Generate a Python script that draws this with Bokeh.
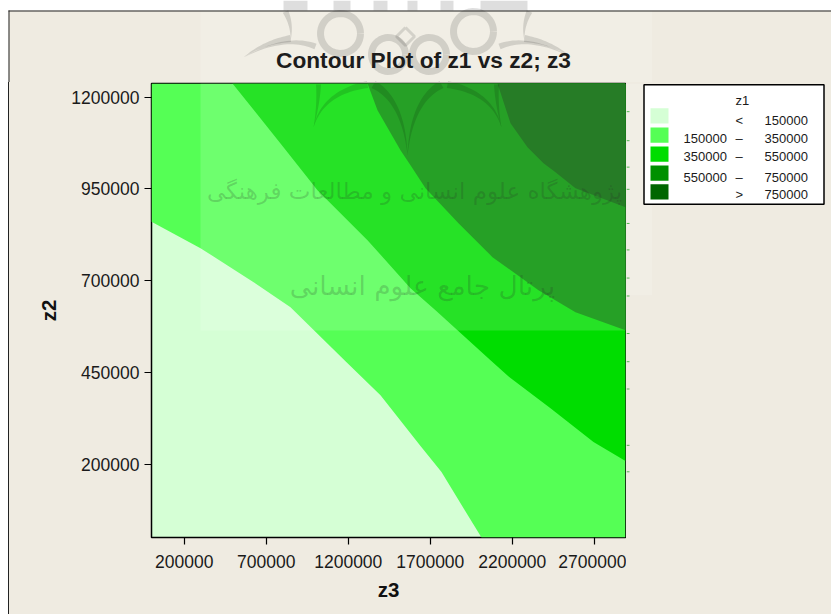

from bokeh.plotting import figure
from bokeh.embed import file_html
from bokeh.resources import INLINE
from bokeh.layouts import column, row
from bokeh.models import BoxAnnotation, Label, PolyAnnotation, FixedTicker, Range1d
import numpy as np

# ---- data ----
title = "Contour Plot of z1 vs z2; z3"
x_label, y_label = "z3", "z2"
x_ticks = [200000, 700000, 1200000, 1700000, 2200000, 2700000]
y_ticks = [200000, 450000, 700000, 950000, 1200000]
x_lim = (0, 2890500)
y_lim = (0, 1237400)

b150_x = [0, 298800, 603700, 847600, 1183000, 1396400, 1640400, 1768400, 1853800, 2012300]
b150_y = [860800, 788600, 701400, 627800, 480700, 388000, 249100, 178200, 115500, 0]
b350_x = [493900, 804900, 1012300, 1317200, 1579400, 1731800, 1866000, 2067200, 2189200, 2433100, 2695300, 2890500]
b350_y = [1237400, 1063800, 946700, 810400, 679600, 619700, 565200, 483400, 434400, 352600, 260000, 208200]
b550_x = [1317200, 1378100, 1518400, 1579400, 1670900, 1872100, 2079400, 2359900, 2585600, 2890500]
b550_y = [1237400, 1164700, 1055700, 1014800, 952100, 856700, 764100, 674200, 614200, 565200]
b750_x = [2109900, 2189200, 2292800, 2390400, 2463600, 2585600, 2890500]
b750_y = [1237400, 1129200, 1063800, 1020200, 995700, 952100, 900300]

level_colors = ["#D5FFD5", "#55FF55", "#00DD00", "#009000", "#006600"]
legend_title = "z1"
legend_low = ["", "150000", "350000", "550000", ""]
legend_op = ["<", "\u2013", "\u2013", "\u2013", ">"]
legend_high = ["150000", "350000", "550000", "750000", "750000"]
wm_line1 = "پژوهشگاه علوم انسانی و مطالعات فرهنگی"
wm_line2 = "پرتال جامع علوم انسانی"

BG = "#EFEBE1"
FONT = "Liberation Sans"
TEXT = "#1a1a1a"
W, H = 831, 614
TOP_H = 82          # top strip: title and picture frame
PANEL_X = 626       # right panel: legend
VEIL = dict(fill_color="white", fill_alpha=0.15, line_alpha=0)
INK = dict(fill_color="black", fill_alpha=0.13, line_alpha=0)


def pixel_figure(x0, x1, y0, y1, color=None):
    f = figure(width=x1 - x0, height=y1 - y0, output_backend="svg", toolbar_location=None,
               x_range=Range1d(x0, x1), y_range=Range1d(y1, y0),
               min_border=0, min_border_left=0, min_border_right=0, min_border_top=0, min_border_bottom=0)
    f.axis.visible = False
    f.grid.visible = False
    f.outline_line_color = None
    f.background_fill_color = color
    f.border_fill_color = color
    return f


def say(f, x, y, text, size, align="left", color=TEXT, style="normal", font=FONT, alpha=1.0,
        units=None, shift=(0, 0)):
    kw = dict(x_units=units, y_units=units) if units else {}
    f.add_layout(Label(x=x - shift[0], y=y - shift[1], text=text, text_font=font, text_font_size=size,
                       text_align=align, text_baseline="middle", text_color=color,
                       text_font_style=style, text_alpha=alpha, **kw))


def taper(a, c, b, w0, n=24):
    t = np.linspace(0, 1, n)
    a, c, b = map(np.array, (a, c, b))
    pts = np.outer((1-t)**2, a) + np.outer(2*t*(1-t), c) + np.outer(t**2, b)
    d = np.gradient(pts, axis=0)
    nrm = np.c_[-d[:, 1], d[:, 0]] / np.linalg.norm(d, axis=1, keepdims=True)
    w = (w0 * (1 - t))[:, None] / 2
    return np.r_[pts + nrm * w, (pts - nrm * w)[::-1]]


# ---- main plot ----
main = figure(width=PANEL_X, height=H - TOP_H, output_backend="svg", toolbar_location=None,
              x_range=Range1d(*x_lim), y_range=Range1d(*y_lim),
              min_border_left=151, min_border_right=1, min_border_top=1, min_border_bottom=77)
main.border_fill_color = None
main.background_fill_color = level_colors[0]
main.grid.visible = False
main.outline_line_color = "black"
main.outline_line_width = 1.5

xmin, xmax = x_lim
ymin, ymax = y_lim
main.patch(b150_x + [xmax, xmax, xmin], b150_y + [ymin, ymax, ymax], color=level_colors[1], line_width=0)
main.patch(b350_x + [xmax], b350_y + [ymax], color=level_colors[2], line_width=0)
main.patch(b550_x + [xmax], b550_y + [ymax], color=level_colors[3], line_width=0)
main.patch(b750_x + [xmax], b750_y + [ymax], color=level_colors[4], line_width=0)

for ax, ticks, lab, lab_off, tit_off in ((main.xaxis[0], x_ticks, x_label, 10, 7),
                                         (main.yaxis[0], y_ticks, y_label, 5, 8)):
    ax.ticker = FixedTicker(ticks=ticks)
    ax.formatter.use_scientific = False
    ax.major_label_text_font = FONT
    ax.major_label_text_font_size = "17.5px"
    ax.major_label_text_color = TEXT
    ax.major_tick_out = 7
    ax.major_tick_in = 0
    ax.major_tick_line_color = "black"
    ax.major_tick_line_width = 1.2
    ax.minor_tick_out = 0
    ax.minor_tick_in = 0
    ax.axis_line_color = None
    ax.major_label_standoff = lab_off
    ax.axis_label = lab
    ax.axis_label_text_font = FONT
    ax.axis_label_text_font_style = "bold"
    ax.axis_label_text_font_size = "20.5px"
    ax.axis_label_text_color = "#111111"
    ax.axis_label_standoff = tit_off

# veil over the plot area (canvas units of the main figure)
main.add_layout(BoxAnnotation(left=200, right=PANEL_X, top=0, bottom=330 - TOP_H,
                              left_units="canvas", right_units="canvas", top_units="canvas",
                              bottom_units="canvas", level="overlay", **VEIL))

# emblem tips reaching into the plot
AX = 407
mirror = lambda q: (2 * AX - q[0], q[1])
inner = [((367, 84), (322, 92), (313, 127), 7), ((318, 84), (318, 105), (313, 127), 5)]
inner = inner + [(mirror(a), mirror(c), mirror(b), w) for a, c, b, w in inner]
inner += [((373, 84), (403, 100), (407, 155), 8), ((441, 84), (411, 100), (407, 155), 8)]
for a, c, b, w in inner:
    poly = taper(a, c, b, w)
    main.add_layout(PolyAnnotation(xs=list(poly[:, 0]), ys=list(poly[:, 1] - TOP_H),
                                   xs_units="canvas", ys_units="canvas", level="overlay", **INK))

# watermark text
say(main, 414, 190, wm_line1, "23px", align="center", font="DejaVu Sans", color="black", alpha=0.2,
    units="canvas", shift=(0, TOP_H))
say(main, 422, 285, wm_line2, "26.5px", align="center", font="DejaVu Sans", color="black", alpha=0.2,
    units="canvas", shift=(0, TOP_H))

# ---- top strip ----
top = pixel_figure(0, W, 0, TOP_H, color="white")
top.quad(left=8, right=W, top=10, bottom=TOP_H + 4, fill_color=BG, line_alpha=0)
top.quad(left=200, right=651.5, top=10, bottom=TOP_H + 4, **VEIL)
for l, r in ((283, 307), (333, 350), (373, 387), (407, 417), (440, 453), (480, 527)):
    top.quad(left=l, right=r, top=0, bottom=10, fill_color="black", fill_alpha=0.13, line_alpha=0)
outer = [((290, 38), (262, 42), (243, 57), 7), ((315, 46), (285, 34), (243, 57), 6),
         ((285, 11), (292, 25), (290, 40), 6)]
outer = outer + [(mirror(a), mirror(c), mirror(b), w) for a, c, b, w in outer]
for a, c, b, w in outer + inner:
    poly = taper(a, c, b, w)
    top.patch(list(poly[:, 0]), list(poly[:, 1]), **INK)
th = np.linspace(0, 2 * np.pi, 40)
for rx, ry, r in ((340, 33, 20), (473, 31, 20), (388, 54, 17), (429, 54, 17)):
    top.line(list(rx + r * np.cos(th)), list(ry + r * np.sin(th)), line_color="black", line_alpha=0.13, line_width=7)
top.line([405, 414, 405, 396, 405], [27, 36, 45, 36, 27], line_color="black", line_alpha=0.12, line_width=3)
top.quad(left=8, right=W, top=10, bottom=11, fill_color="#222222", line_alpha=0)
top.quad(left=8, right=9, top=10, bottom=TOP_H + 4, fill_color="#222222", line_alpha=0)
say(top, 423, 59, title, "22.7px", align="center", color="#1c1c1c", style="bold")

# ---- right panel: legend ----
side = pixel_figure(PANEL_X, W, TOP_H, H)
side.quad(left=PANEL_X, right=651.5, top=TOP_H, bottom=330, **VEIL)
for ty in (115, 149, 180, 206, 246, 277, 310, 331, 375, 408, 440, 506, 537):
    side.segment(x0=PANEL_X, x1=PANEL_X + 3, y0=ty, y1=ty, line_color="#2fa52f", line_width=1, line_alpha=0.8)
side.quad(left=643.5, right=823.5, top=83.5, bottom=223.5, fill_color="white", line_color="black", line_width=1.5)
say(side, 735, 102, legend_title, "13px")
rows = [(111, 129, 125), (133.5, 151.5, 147), (155.7, 173.7, 168), (178, 196, 192), (200, 218, 212)]
for (t, b, ty), col, lo, op, hi in zip(rows, level_colors, legend_low, legend_op, legend_high):
    side.quad(left=650, right=668, top=t, bottom=b, fill_color=col, line_alpha=0)
    if lo:
        say(side, 683, ty, lo, "13px")
    say(side, 735, ty, op, "13px")
    say(side, 764, ty, hi, "13px")

page_fill = f"linear-gradient(to right, white 8px, #222222 8px, #222222 9px, {BG} 9px)"
layout = column(top, row(main, side, spacing=0, styles={"background": page_fill}), spacing=0)
open("out.html", "w").write(file_html(layout, INLINE))
